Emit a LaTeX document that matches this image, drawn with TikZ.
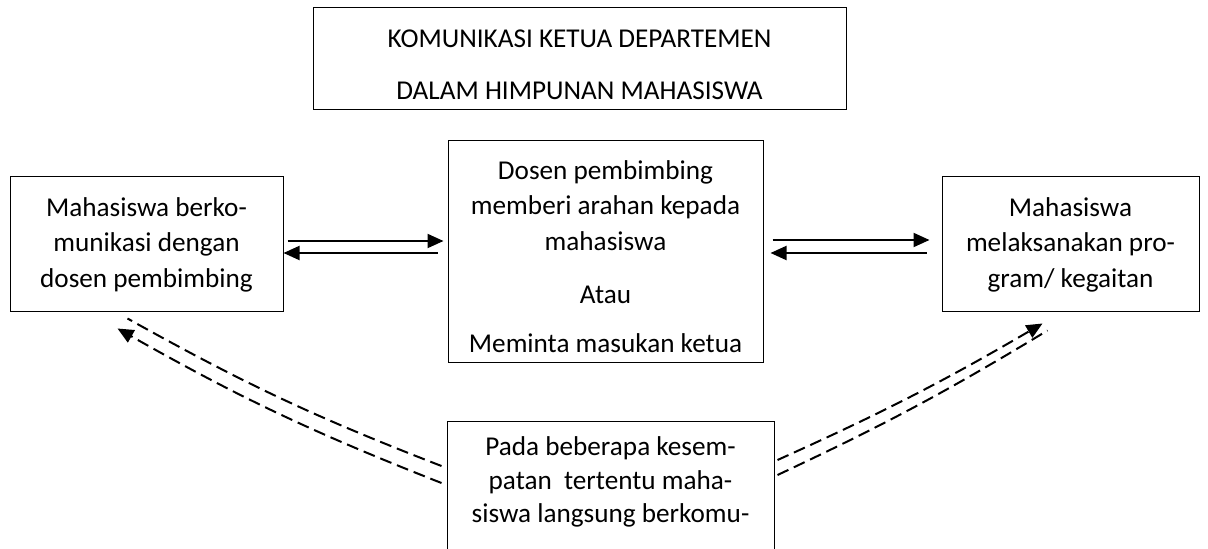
\documentclass[tikz,border=0pt]{standalone}
\usepackage{fontspec}
\setmainfont{Carlito}
\usetikzlibrary{arrows.meta}

\begin{document}
\begin{tikzpicture}[x=0.5pt,y=-0.5pt,
    box/.style={draw, line width=0.5pt, inner sep=0pt, align=center,
      font=\fontsize{13.6}{17.75}\selectfont},
    flow/.style={line width=1pt, -{Triangle[length=8pt,width=7pt]}},
    dflow/.style={line width=1pt, dash pattern=on 6pt off 3pt}]
    \useasboundingbox (0,0) rectangle (1208,549);
    % Title
    \node[box, minimum width=266.5pt, minimum height=51pt,
      font=\fontsize{13.6}{26}\selectfont] (title) at (579.5,59)
      {\rule{0pt}{15pt}KOMUNIKASI KETUA DEPARTEMEN\\DALAM HIMPUNAN MAHASISWA};
    % Main row
    \node[box, minimum width=136.5pt, minimum height=67.5pt] (lbox) at (146.5,244.5)
      {Mahasiswa berko-\\munikasi dengan\\dosen pembimbing};
    \node[box, minimum width=157.5pt, minimum height=111pt] (cbox) at (605.5,252)
      {\rule{0pt}{14pt}Dosen pembimbing\\memberi arahan kepada\\mahasiswa\\[9pt]Atau\\[6.5pt]Meminta masukan ketua};
    \node[box, minimum width=128.5pt, minimum height=67.5pt] (rbox) at (1070.5,244.5)
      {Mahasiswa\\melaksanakan pro-\\gram/ kegaitan};
    % Bottom box (runs off the page)
    \node[box, anchor=north, minimum width=163.5pt,
      font=\fontsize{13.6}{16.75}\selectfont] (bbox) at (610.5,421)
      {\rule{0pt}{17pt}Pada beberapa kesem-\\patan~ tertentu maha-\\siswa langsung berkomu-\rule[-50pt]{0pt}{0pt}};
    % Two-way arrows
    \draw[flow, shorten <=2pt, shorten >=2pt] ([yshift=1.75pt]lbox.east) -- ([yshift=1.75pt]lbox.east -| cbox.west);
    \draw[flow, shorten <=5pt] ([yshift=-4.25pt]lbox.east -| cbox.west) -- ([yshift=-4.25pt]lbox.east);
    \draw[flow, shorten <=4.5pt, shorten >=6pt] ([yshift=2.25pt]rbox.west -| cbox.east) -- ([yshift=2.25pt]rbox.west);
    \draw[flow, shorten <=7.5pt, shorten >=3.5pt] ([yshift=-4.25pt]rbox.west) -- ([yshift=-4.25pt]rbox.west -| cbox.east);
    % Dashed links from the bottom box
    \draw[dflow] ([shift={(-5,45)}]bbox.north west) to[bend left=4] ([shift={(118,6)}]lbox.south west);
    \draw[dflow, -{Triangle[length=8pt,width=7pt]}] ([shift={(-5,62)}]bbox.north west) to[bend left=4] ([shift={(108,16)}]lbox.south west);
    \draw[dflow, -{Triangle[length=8pt,width=7pt]}] ([shift={(3,39)}]bbox.north east) to[bend right=3] ([shift={(101,11)}]rbox.south west);
    \draw[dflow] ([shift={(3,54)}]bbox.north east) to[bend right=3] ([shift={(106,18)}]rbox.south west);
\end{tikzpicture}
\end{document}
